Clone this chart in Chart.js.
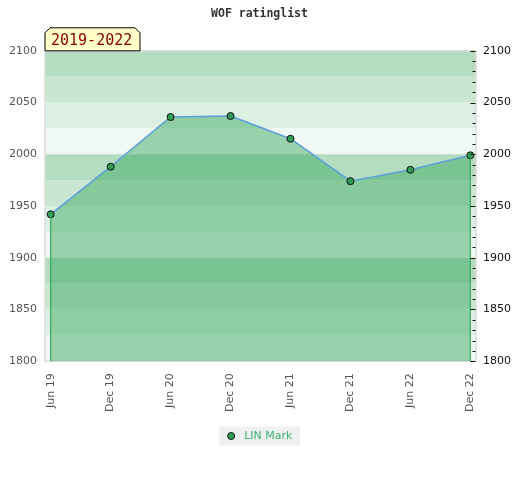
<!DOCTYPE html>
<html>
<head>
<meta charset="utf-8">
<script src="https://cdn.jsdelivr.net/npm/chart.js@4"></script>
<style>
  html, body { margin: 0; padding: 0; background: #fff; }
  #wrap { width: 520px; height: 480px; }
</style>
</head>
<body>
<div id="wrap"><canvas id="myChart" width="520" height="480"></canvas></div>
<script>
'use strict';
// data
let xLabels = ['Jun 19', 'Dec 19', 'Jun 20', 'Dec 20', 'Jun 21', 'Dec 21', 'Jun 22', 'Dec 22'];
let ratings = [1942, 1988, 2036, 2037, 2015, 1974, 1985, 1999];
let yTicks = [1800, 1850, 1900, 1950, 2000, 2050, 2100];
let seriesName = 'LIN Mark';
let periodLabel = '2019-2022';

let bandColors = ['#b3dcc0', '#c9e6d3', '#dcefe3', '#f0f8f3'];
let legendFontSize = 11;

let points = [];
for (let i = 0; i < ratings.length; i++) {
    points.push({x: i, y: ratings[i]});
}

let bgPlugin = {
    id: 'bands',
    beforeDraw(chart) {
        let ctx = chart.ctx;
        let area = chart.chartArea;
        let y = chart.scales.y;
        ctx.save();
        let k = 0;
        for (let v = y.max; v > y.min; v -= 25) {
            let top = y.getPixelForValue(v);
            let bot = y.getPixelForValue(v - 25);
            ctx.fillStyle = bandColors[k % 4];
            ctx.fillRect(area.left, top, area.right - area.left, bot - top);
            k++;
        }
        ctx.strokeStyle = '#dcdcdc';
        ctx.lineWidth = 1.5;
        ctx.strokeRect(area.left, area.top, area.right - area.left, area.bottom - area.top);

        // legend background and marker
        let lg = chart.legend;
        if (lg && lg.legendHitBoxes.length) {
            let hb = lg.legendHitBoxes[0];
            let textX = hb.left + 12 + legendFontSize / 2;
            let cy = hb.top + hb.height / 2;
            ctx.fillStyle = '#f0f0f0';
            ctx.fillRect(textX - 25, cy - 10, 81, 19);
            ctx.beginPath();
            ctx.arc(textX - 13, cy - 0.5, 3.5, 0, Math.PI * 2);
            ctx.fillStyle = '#2e9e57';
            ctx.fill();
            ctx.strokeStyle = '#111';
            ctx.lineWidth = 1;
            ctx.stroke();
        }
        ctx.restore();
    },
    afterDatasetsDraw(chart) {
        let ctx = chart.ctx;
        let area = chart.chartArea;
        let x = chart.scales.x;
        let y = chart.scales.y;
        ctx.save();
        // drop lines at both ends
        ctx.strokeStyle = '#2ea85a';
        ctx.lineWidth = 1.2;
        [0, ratings.length - 1].forEach(function (i) {
            let px = x.getPixelForValue(i);
            ctx.beginPath();
            ctx.moveTo(px, y.getPixelForValue(ratings[i]));
            ctx.lineTo(px, area.bottom);
            ctx.stroke();
        });
        // tick marks on the right edge
        ctx.strokeStyle = '#111';
        ctx.lineWidth = 1;
        for (let v = y.min; v <= y.max; v += 10) {
            let py = Math.round(y.getPixelForValue(v)) + 0.5;
            let len = (v % 50 === 0) ? 5 : 3;
            ctx.beginPath();
            ctx.moveTo(area.right - 0.5 - len, py);
            ctx.lineTo(area.right - 0.5, py);
            ctx.stroke();
        }
        ctx.restore();
    },
    afterDraw(chart) {
        let ctx = chart.ctx;
        let area = chart.chartArea;
        let l = area.left, t = area.top - 23, w = 95, h = 23, c = 5;
        ctx.save();
        ctx.beginPath();
        ctx.moveTo(l, area.top);
        ctx.lineTo(l, t + c);
        ctx.lineTo(l + c, t);
        ctx.lineTo(l + w - c, t);
        ctx.lineTo(l + w, t + c);
        ctx.lineTo(l + w, area.top);
        ctx.closePath();
        ctx.fillStyle = '#ffffc8';
        ctx.fill();
        ctx.strokeStyle = '#000';
        ctx.lineWidth = 1;
        ctx.stroke();
        ctx.fillStyle = '#8b0000';
        ctx.font = '15px "DejaVu Sans Mono"';
        ctx.textBaseline = 'middle';
        ctx.fillText(periodLabel, l + 6, t + h / 2 + 2);
        ctx.restore();
    }
};

function plainNumber(v) { return String(v); }

let ctx = document.getElementById('myChart').getContext('2d');
let myChart = new Chart(ctx, {
    type: 'line',
    data: {
        datasets: [{
            label: seriesName,
            data: points,
            borderColor: '#5b9fd8',
            borderWidth: 1.5,
            backgroundColor: 'rgba(65, 172, 102, 0.5)',
            fill: 'start',
            tension: 0,
            pointRadius: 3.5,
            pointBackgroundColor: '#2e9e57',
            pointBorderColor: '#111',
            pointBorderWidth: 1,
            yAxisID: 'y'
        }]
    },
    plugins: [bgPlugin],
    options: {
        responsive: false,
        animation: false,
        layout: {padding: {left: 1, right: 2, bottom: 28}},
        plugins: {
            title: {
                display: true,
                text: 'WOF ratinglist',
                color: '#333',
                font: {family: 'DejaVu Sans Mono', weight: 'bold', size: 11.5},
                padding: {top: 7, bottom: 30}
            },
            legend: {
                position: 'bottom',
                labels: {
                    boxWidth: 12,
                    boxHeight: 0,
                    padding: 7,
                    color: '#3cb371',
                    font: {family: 'DejaVu Sans', size: legendFontSize},
                    generateLabels: function (chart) {
                        return [{
                            text: seriesName,
                            fillStyle: 'rgba(0,0,0,0)',
                            strokeStyle: 'rgba(0,0,0,0)',
                            lineWidth: 0,
                            fontColor: '#3cb371',
                            datasetIndex: 0
                        }];
                    }
                }
            },
            tooltip: {enabled: false}
        },
        scales: {
            x: {
                type: 'linear',
                min: -0.095,
                max: ratings.length - 1 + 0.095,
                grid: {display: false, drawTicks: false},
                border: {display: false},
                afterFit: function (axis) { axis.paddingLeft = 0; axis.paddingRight = 0; },
                ticks: {
                    stepSize: 1,
                    includeBounds: false,
                    autoSkip: false,
                    maxRotation: 90,
                    minRotation: 90,
                    padding: 12,
                    color: '#555',
                    font: {family: 'DejaVu Sans', size: 11},
                    callback: function (v) { return xLabels[v]; }
                }
            },
            y: {
                position: 'left',
                min: yTicks[0],
                max: yTicks[yTicks.length - 1],
                grid: {display: false, drawTicks: false},
                border: {display: false},
                afterBuildTicks: function (axis) { axis.ticks = yTicks.map(function (v) { return {value: v}; }); },
                ticks: {
                    padding: 8,
                    color: '#555',
                    font: {family: 'DejaVu Sans', size: 11},
                    callback: plainNumber
                }
            },
            y2: {
                position: 'right',
                min: yTicks[0],
                max: yTicks[yTicks.length - 1],
                grid: {display: false, drawTicks: false},
                border: {display: false},
                afterBuildTicks: function (axis) { axis.ticks = yTicks.map(function (v) { return {value: v}; }); },
                ticks: {
                    padding: 7,
                    color: '#111',
                    font: {family: 'DejaVu Sans', size: 11},
                    callback: plainNumber
                }
            }
        }
    }
});
</script>
</body>
</html>
